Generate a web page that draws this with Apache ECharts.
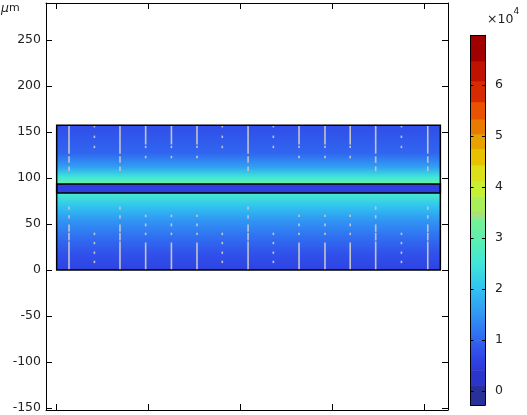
<!DOCTYPE html>
<html>
<head>
<meta charset="utf-8">
<script src="https://cdn.jsdelivr.net/npm/echarts@6/dist/echarts.min.js"></script>
<style>
  html, body { margin: 0; padding: 0; background: #fff; }
  #chart { width: 527px; height: 415px; }
</style>
</head>
<body>
<div id="chart"></div>
<script>
// geometry of the domain (um)
const xSpan = [0, 417];
const yTicks = [-150, -100, -50, 0, 50, 100, 150, 200, 250];
const xTicks = [0, 100, 200, 300, 400];

// field profile (x10^4) read along the height, upper and lower layers
const upperH = [93.5, 95.7, 101, 112, 127, 157.4];
const upperV = [3.0, 3.0, 2.5, 1.6, 1.0, 0.75];
const lowerH = [0, 18.5, 36, 54, 68.5, 82.6, 83.7];
const lowerV = [0.6, 0.8, 1.1, 1.5, 2.0, 2.6, 2.7];
const bandSpan = [83.7, 93.5];
const bandV = 0.55;

// colour legend
const cbTicks = [0, 1, 2, 3, 4, 5, 6];
const cbRange = [-0.27, 6.97];
const cmapStops = [
  [0.41, '#2c38d6'], [0.7, '#3048e8'], [1.0, '#3066f0'], [1.5, '#3096f4'],
  [2.0, '#30c2f0'], [2.5, '#40e6da'], [3.0, '#5ef0ae'], [3.39, '#7af092']
];
const cbBands = [
  [-0.27, 0.12, '#2a309a'], [0.12, 0.41, '#2a35cc'],
  [3.39, 3.53, '#a8e07a'], [3.53, 3.82, '#a8f05a'], [3.82, 4.12, '#c8f032'],
  [4.12, 4.43, '#dce01a'], [4.43, 4.75, '#e8c200'], [4.75, 5.04, '#e8a200'],
  [5.04, 5.33, '#e87a00'], [5.33, 5.67, '#e85200'], [5.67, 6.08, '#d82a00'],
  [6.08, 6.47, '#c01200'], [6.47, 6.97, '#a00000']
];

// light grey marks: column x and pattern of [y0, y1] pieces
const markCols = [
  [13.4, 'A'], [41, 'B'], [68.8, 'A'], [96.7, 'C'], [124.7, 'C'], [152.5, 'C'],
  [180, 'B'], [208, 'A'], [235.5, 'B'], [263.4, 'C'], [291.6, 'C'], [319, 'C'],
  [346.7, 'A'], [374.7, 'B'], [403.3, 'A']
];
const markPatterns = {
  A: [[127, 157.4], [117, 123], [108, 112], [66, 68.5], [56.5, 59], [42, 49], [32.6, 40], [0, 30.4]],
  B: [[155.5, 157], [144, 145.5], [133, 134.5], [38.5, 40], [28.5, 30], [18, 19.5], [8, 9.5]],
  C: [[137, 157.4], [133, 134.5], [122, 123.5], [58, 59.5], [48, 50], [38.5, 40], [0, 29.3]]
};

function cmap(v) {
  if (v <= cmapStops[0][0]) return cmapStops[0][1];
  for (let i = 1; i < cmapStops.length; i++) {
    if (v <= cmapStops[i][0]) {
      const t = (v - cmapStops[i - 1][0]) / (cmapStops[i][0] - cmapStops[i - 1][0]);
      return echarts.color.lerp(t, [cmapStops[i - 1][1], cmapStops[i][1]]);
    }
  }
  return cmapStops[cmapStops.length - 1][1];
}

const regions = [
  { lo: upperH[0], hi: upperH[upperH.length - 1], h: upperH, v: upperV },
  { lo: lowerH[0], hi: lowerH[lowerH.length - 1], h: lowerH, v: lowerV }
];

const segs = [];
markCols.forEach(([x, p]) => markPatterns[p].forEach(([a, b]) => segs.push([x, a, b])));

// colorbar pieces: discrete bands + gradient pieces between cmap stops
const cbPieces = cbBands.map(b => [b[0], b[1], b[2], b[2]]);
for (let i = 1; i < cmapStops.length; i++) {
  cbPieces.push([cmapStops[i - 1][0], cmapStops[i][0], cmapStops[i - 1][1], cmapStops[i][1]]);
}

const font = { fontFamily: 'DejaVu Sans', fontSize: 12.5, color: '#222' };
const axisLine = { show: true, onZero: false, lineStyle: { color: '#000', width: 1 } };
const tick = (len, vals) => ({ inside: true, length: len, customValues: vals, lineStyle: { color: '#000' } });

const chart = echarts.init(document.getElementById('chart'));
chart.setOption({
  animation: false,
  backgroundColor: '#fff',
  grid: [
    { left: 46, top: 3, width: 402, height: 407 },
    { left: 470.5, top: 35.3, width: 14.5, height: 369.7 }
  ],
  xAxis: [
    { gridIndex: 0, type: 'value', min: -11.6, max: 425.3, position: 'bottom', z: 10,
      axisLine, splitLine: { show: false }, axisLabel: { show: false, customValues: xTicks },
      axisTick: tick(6, xTicks) },
    { gridIndex: 0, type: 'value', min: -11.6, max: 425.3, position: 'top', z: 10,
      axisLine, splitLine: { show: false }, axisLabel: { show: false, customValues: xTicks },
      axisTick: tick(6, xTicks) },
    { gridIndex: 1, type: 'value', min: 0, max: 1, position: 'bottom', axisLine, z: 10,
      splitLine: { show: false }, axisLabel: { show: false }, axisTick: { show: false } },
    { gridIndex: 1, type: 'value', min: 0, max: 1, position: 'top', axisLine, z: 10,
      splitLine: { show: false }, axisLabel: { show: false }, axisTick: { show: false } }
  ],
  yAxis: [
    { gridIndex: 0, type: 'value', min: -152.2, max: 290.2, position: 'left', z: 10,
      axisLine, splitLine: { show: false },
      axisLabel: Object.assign({ margin: 5, customValues: yTicks }, font),
      axisTick: tick(6, yTicks) },
    { gridIndex: 0, type: 'value', min: -152.2, max: 290.2, position: 'right', z: 10,
      axisLine, splitLine: { show: false }, axisLabel: { show: false, customValues: yTicks },
      axisTick: tick(6, yTicks) },
    { gridIndex: 1, type: 'value', min: cbRange[0], max: cbRange[1], position: 'left', z: 10,
      axisLine, splitLine: { show: false }, axisLabel: { show: false, customValues: cbTicks },
      axisTick: tick(3, cbTicks) },
    { gridIndex: 1, type: 'value', min: cbRange[0], max: cbRange[1], position: 'right', z: 10,
      axisLine, splitLine: { show: false },
      axisLabel: Object.assign({ margin: 10, customValues: cbTicks }, font),
      axisTick: tick(3, cbTicks) }
  ],
  series: [
    {
      type: 'custom', xAxisIndex: 0, yAxisIndex: 0, silent: true, z: 1,
      data: regions.map((r, i) => [i]),
      renderItem: function (params, api) {
        const r = regions[params.dataIndex];
        const p0 = api.coord([xSpan[0], r.hi]);
        const p1 = api.coord([xSpan[1], r.lo]);
        const stops = r.h.map((h, i) => ({ offset: (r.hi - h) / (r.hi - r.lo), color: cmap(r.v[i]) }))
          .sort((a, b) => a.offset - b.offset);
        return {
          type: 'rect',
          shape: { x: p0[0], y: p0[1], width: p1[0] - p0[0], height: p1[1] - p0[1] },
          style: { fill: new echarts.graphic.LinearGradient(0, 0, 0, 1, stops) }
        };
      }
    },
    {
      type: 'custom', xAxisIndex: 0, yAxisIndex: 0, silent: true, z: 2,
      data: segs,
      renderItem: function (params, api) {
        const a = api.coord([api.value(0), api.value(1)]);
        const b = api.coord([api.value(0), api.value(2)]);
        return {
          type: 'line',
          shape: { x1: a[0], y1: a[1] + 0.5, x2: b[0], y2: b[1] - 0.5 },
          style: { stroke: '#c4c4c8', lineWidth: 1.6 }
        };
      }
    },
    {
      type: 'custom', xAxisIndex: 0, yAxisIndex: 0, silent: true, z: 3,
      data: [[0]],
      renderItem: function (params, api) {
        const o0 = api.coord([xSpan[0], upperH[upperH.length - 1]]);
        const o1 = api.coord([xSpan[1], lowerH[0]]);
        const b0 = api.coord([xSpan[0], bandSpan[1]]);
        const b1 = api.coord([xSpan[1], bandSpan[0]]);
        return {
          type: 'group',
          children: [
            { type: 'rect', shape: { x: b0[0], y: b0[1], width: b1[0] - b0[0], height: b1[1] - b0[1] },
              style: { fill: cmap(bandV), stroke: '#000', lineWidth: 1.5 } },
            { type: 'rect', shape: { x: o0[0], y: o0[1], width: o1[0] - o0[0], height: o1[1] - o0[1] },
              style: { fill: null, stroke: '#000', lineWidth: 1.5 } }
          ]
        };
      }
    },
    {
      type: 'custom', xAxisIndex: 2, yAxisIndex: 2, silent: true, z: 1,
      data: cbPieces.map((p, i) => [i]),
      renderItem: function (params, api) {
        const p = cbPieces[params.dataIndex];
        const t = api.coord([0, p[1]]);
        const b = api.coord([1, p[0]]);
        const fill = p[2] === p[3] ? p[2] :
          new echarts.graphic.LinearGradient(0, 0, 0, 1, [{ offset: 0, color: p[3] }, { offset: 1, color: p[2] }]);
        return {
          type: 'rect',
          shape: { x: t[0], y: t[1], width: b[0] - t[0], height: b[1] - t[1] + 0.5 },
          style: { fill: fill }
        };
      }
    }
  ],
  graphic: [
    {
      type: 'text', left: 1, top: 2,
      style: {
        text: '{i|μ}{n|m}',
        rich: {
          i: { fontFamily: 'DejaVu Sans', fontStyle: 'italic', fontSize: 12.5, fill: '#222' },
          n: { fontFamily: 'DejaVu Sans', fontSize: 11, fill: '#222' }
        }
      }
    },
    {
      type: 'text', left: 487, top: 7,
      style: {
        text: '{a|×10}{s|4}',
        rich: {
          a: { fontFamily: 'DejaVu Sans', fontSize: 12.5, fill: '#222', padding: [7, 0, 0, 0] },
          s: { fontFamily: 'DejaVu Sans', fontSize: 9, fill: '#222', verticalAlign: 'top', padding: [1, 0, 6, 0] }
        }
      }
    }
  ]
});
</script>
</body>
</html>
